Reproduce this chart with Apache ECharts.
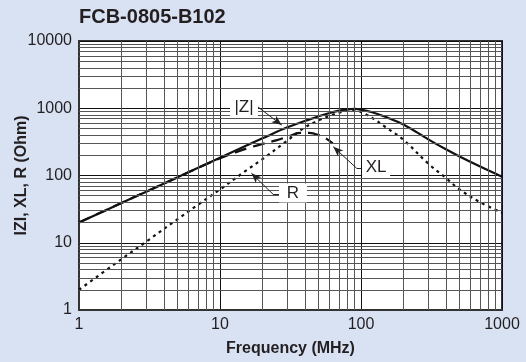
<!DOCTYPE html>
<html>
<head>
<meta charset="utf-8">
<script src="https://cdn.jsdelivr.net/npm/echarts@6/dist/echarts.min.js"></script>
<style>
html,body{margin:0;padding:0;background:#d9e2f3;}
#c{width:526px;height:362px;}
</style>
</head>
<body>
<div id="c"></div>
<script>
// ---- data ----
var zFreq = [1,2,3,5,7,10,15,20,30,40,50,60,70,80,90,100,120,150,200,300,400,500,700,1000];
var zVals = [20,39,57.5,94,130,184,272,357,520,645,760,850,920,965,980,955,870,740,575,345,245,192,136,96];

var rFreq = [1,2,3,5,7,10,15,20,30,40,50,60,70,80,90,100,120,150,200,300,400,500,700,1000];
var rVals = [2,5.7,10.4,22.4,37,62,115,175,330,520,660,770,860,920,930,880,720,520,340,150,92,62,40,28];

var xlFreq = [1,2,3,5,7,10,13,16,20,25,30,37,43,50,57,63];
var xlVals = [20,39,57.5,94,130,180,222,258,295,333,375,430,430,400,350,300];

var xTicks = [1,10,100,1000];
var yTicks = [1,10,100,1000,10000];
var minorMult = [2,3,4,5,6,7,8,9];

function pairs(f, v){ var o=[]; for(var i=0;i<f.length;i++) o.push([f[i],v[i]]); return o; }

var vMinor = [], hMinor = [];
for (var d=0; d<xTicks.length-1; d++) minorMult.forEach(function(m){ vMinor.push({xAxis: m*xTicks[d]}); });
for (var e=0; e<yTicks.length-1; e++) minorMult.forEach(function(m){ hMinor.push({yAxis: m*yTicks[e]}); });

// annotation anchors (data coordinates)
var labels = [
  {text:'|Z|', at:[14.8,1026]},
  {text:'XL',  at:[128,131]},
  {text:'R',   at:[32.9,55]}
];
var leaders = [
  [[18.6,1043],[18.6,1043],[27.4,563]],
  [[101,128],[93.2,128],[63.6,268]],
  [[26.2,52.6],[23.8,52.6],[16.7,108]]
];

var leaderData = [];
leaders.forEach(function(L){
  leaderData.push([{coord:L[0],symbol:'none'},{coord:L[1],symbol:'none'}]);
  leaderData.push([{coord:L[1],symbol:'none'},{coord:L[2],symbol:'arrow',symbolSize:[6,10]}]);
});

var chart = echarts.init(document.getElementById('c'), null, {renderer:'canvas'});
var font = 'Liberation Sans, Arial, Helvetica, sans-serif';
function plain(v){ return String(Math.round(v)); }
chart.setOption({
  backgroundColor:'#d9e2f3',
  animation:false,
  title:{text:'FCB-0805-B102', left:79, top:7, padding:0,
    textStyle:{fontFamily:font, fontSize:20, fontWeight:'bold', color:'#231f20'}},
  grid:{left:79, right:24, top:41, bottom:52, show:true, backgroundColor:'#ffffff',
    borderColor:'#333', borderWidth:2, containLabel:false, outerBoundsMode:'none'},
  xAxis:{type:'log', logBase:10, min:1, max:1000, splitNumber:3,
    name:'Frequency (MHz)', nameLocation:'middle', nameGap:31, nameMoveOverlap:false,
    nameTextStyle:{fontFamily:font, fontSize:16, fontWeight:'bold', color:'#231f20'},
    axisLine:{show:true, lineStyle:{color:'#333', width:2}},
    axisTick:{show:false},
    axisLabel:{fontFamily:font, fontSize:16, color:'#231f20', margin:7, formatter:plain},
    splitLine:{show:true, lineStyle:{color:'#111', width:1}}
  },
  yAxis:{type:'log', logBase:10, min:1, max:10000, splitNumber:4,
    name:'IZI, XL, R (Ohm)', nameLocation:'middle', nameGap:49, nameRotate:90, nameMoveOverlap:false,
    nameTextStyle:{fontFamily:font, fontSize:16, fontWeight:'bold', color:'#231f20'},
    axisLine:{show:true, lineStyle:{color:'#333', width:2}},
    axisTick:{show:false},
    axisLabel:{fontFamily:font, fontSize:16, color:'#231f20', margin:7, formatter:plain},
    splitLine:{show:true, lineStyle:{color:'#111', width:1}}
  },
  series:[
    {type:'line', name:'grid', data:[[1,1]], z:1, silent:true, showSymbol:false,
      lineStyle:{opacity:0},
      markLine:{silent:true, symbol:'none', animation:false, label:{show:false},
        lineStyle:{type:'solid', color:'#555', width:1},
        data: vMinor.concat(hMinor)}
    },
    {type:'line', name:'|Z|', data:pairs(zFreq,zVals), z:4, showSymbol:false, smooth:0.35,
      lineStyle:{color:'#111', width:2.2}},
    {type:'line', name:'XL', data:pairs(xlFreq,xlVals), z:3, showSymbol:false, smooth:0.35,
      lineStyle:{color:'#111', width:2.2, type:[12,7]}},
    {type:'line', name:'R', data:pairs(rFreq,rVals), z:3, showSymbol:false, smooth:0.35,
      lineStyle:{color:'#111', width:2.2, type:[3,4]}},
    {type:'line', name:'ann', data:[[1,1]], z:6, silent:true, showSymbol:false,
      lineStyle:{opacity:0},
      markLine:{silent:true, animation:false, label:{show:false},
        lineStyle:{type:'solid', color:'#222', width:1},
        data: leaderData},
      markPoint:{silent:true, animation:false, symbol:'rect', symbolSize:[28,19],
        itemStyle:{color:'#ffffff'},
        label:{show:true, position:'inside', fontFamily:font, fontSize:17, color:'#231f20',
          formatter:function(p){return p.name;}},
        data: labels.map(function(l){ return {name:l.text, coord:l.at}; })}
    }
  ]
});
</script>
</body>
</html>
